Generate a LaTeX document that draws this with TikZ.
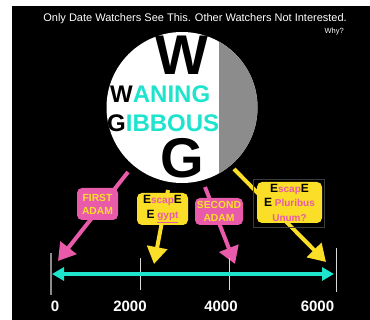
\documentclass[tikz,border=0pt]{standalone}
\usepackage{fontspec}
\setmainfont{Liberation Sans}
\usetikzlibrary{arrows.meta}
\definecolor{pinkc}{RGB}{234,90,170}
\definecolor{yell}{RGB}{250,222,40}
\definecolor{cyanc}{RGB}{30,228,205}
\definecolor{moongray}{RGB}{140,140,140}
\definecolor{framegray}{RGB}{60,60,60}
\newcommand{\myfs}[2]{\fontsize{#1}{#2}\selectfont}
\newcommand{\bigE}{{\myfs{12}{15}E}}
\tikzset{
  txt/.style={inner sep=0pt, text=white},
  arrowline/.style={line width=4pt, -{Triangle[length=17pt,width=20pt]}},
  pinkbox/.style={fill=pinkc, rounded corners=5pt, text=yell, font=\bfseries\myfs{10.3}{13}, align=center, inner sep=0pt},
  yellbox/.style={fill=yell, rounded corners=5pt, text=black, font=\bfseries\myfs{10}{15}, align=center, inner sep=0pt},
  tickmark/.style={line width=1pt, draw=white!85!black},
  ticklabel/.style={txt, anchor=base, font=\bfseries\myfs{15}{18}},
  bigletter/.style={inner sep=0pt, anchor=base, font=\bfseries\myfs{56}{60}},
  moonword/.style={inner sep=0pt, anchor=base west, text=cyanc, font=\bfseries\myfs{24}{28}}
}
\begin{document}
\begin{tikzpicture}[x=1pt,y=-1pt]
\useasboundingbox (0,0) rectangle (370,320);
\fill[white] (0,0) rectangle (370,320);
\fill[black] (12,6) rectangle (370,320);

% header
\node[txt, anchor=base east, font=\myfs{11}{12}] (title) at (347,22) {Only Date Watchers See This. Other Watchers Not Interested.};
\node[txt, anchor=base east, font=\myfs{7.5}{9}] (why) at (344,34) {Why?};

% arrows
\coordinate (s1) at (128,172); \coordinate (t1) at (58,261);
\coordinate (s2) at (168,190); \coordinate (t2) at (154,264);
\coordinate (s3) at (205,187); \coordinate (t3) at (235,264);
\coordinate (s4) at (234,169); \coordinate (t4) at (326,262);
\draw[arrowline, pinkc] (s1) -- (t1);
\draw[arrowline, yell] (s2) -- (t2);
\draw[arrowline, pinkc] (s3) -- (t3);
\draw[arrowline, yell] (s4) -- (t4);

% moon
\node[circle, fill=white, minimum size=151pt, inner sep=0pt] (moon) at (182,107.5) {};
\begin{scope}
\clip (moon.center) circle [radius=75.5pt];
\fill[moongray] (219,20) rectangle (270,200);
\end{scope}
\node[bigletter] (bigW) at (182,75) {W};
\node[bigletter] (bigG) at (182,178) {G};
\node[moonword] (waning) at (110,103) {\textcolor{black}{W}ANING};
\node[moonword] (gibbous) at (107,132) {\textcolor{black}{G}IBBOUS};

% boxes
\node[pinkbox, minimum width=41pt, minimum height=32pt] (first) at (97.5,204) {FIRST\\ADAM};
\node[yellbox, minimum width=51pt, minimum height=32pt] (egypt) at (162.5,209)
  {\bigE\textcolor{pinkc}{scap}\bigE\\\bigE\ \textcolor{pinkc}{\underline{gypt}}};
\node[pinkbox, minimum width=48pt, minimum height=27pt] (second) at (219,211.5) {SECOND\\ADAM};
\node[draw=framegray, line width=0.8pt, minimum width=71pt, minimum height=48pt, inner sep=0pt] (frame) at (288.5,203) {};
\node[yellbox, font=\bfseries\myfs{10}{14.5}, minimum width=65pt, minimum height=41pt] (pluri) at (289.5,202.5)
  {\bigE\textcolor{pinkc}{scap}\bigE\\\bigE\ \textcolor{pinkc}{Pluribus}\\\textcolor{pinkc}{Unum?}};

% timeline
\coordinate (k0a) at (51,253); \coordinate (k0b) at (51,295);
\coordinate (k2a) at (140,258); \coordinate (k2b) at (140,290);
\coordinate (k4a) at (229,258); \coordinate (k4b) at (229,290);
\coordinate (k6a) at (336,248); \coordinate (k6b) at (336,292);
\draw[tickmark, draw=moongray, line width=1.5pt] (k0a) -- (k0b);
\draw[tickmark] (k2a) -- (k2b);
\draw[tickmark] (k4a) -- (k4b);
\draw[tickmark] (k6a) -- (k6b);
\coordinate (L) at (52,274); \coordinate (R) at (334,274);
\draw[line width=4pt, cyanc, {Triangle[length=12pt,width=13pt]}-{Triangle[length=12pt,width=13pt]}] (L) -- (R);
\node[ticklabel] (l0) at (55,312) {0};
\node[ticklabel] (l2) at (130,312) {2000};
\node[ticklabel] (l4) at (221,312) {4000};
\node[ticklabel] (l6) at (317.5,312) {6000};
\end{tikzpicture}
\end{document}
